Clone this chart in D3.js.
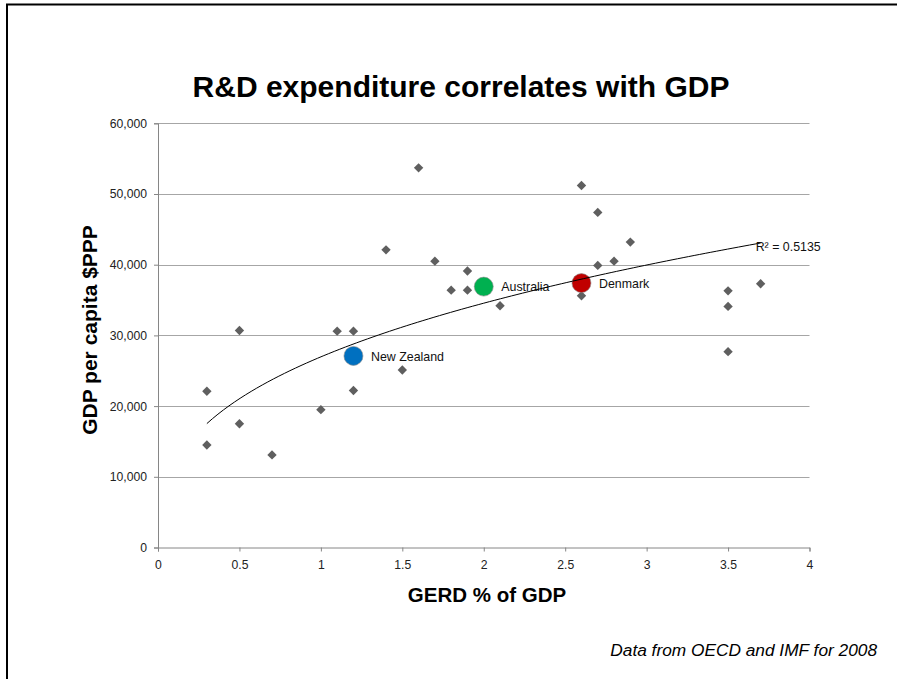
<!DOCTYPE html>
<html>
<head>
<meta charset="utf-8">
<script src="https://cdn.jsdelivr.net/npm/d3@7/dist/d3.min.js"></script>
<style>
  html, body { margin: 0; padding: 0; background: #fff; }
  svg { display: block; font-family: Arial, "Liberation Sans", Helvetica, sans-serif; }
</style>
</head>
<body>
<svg id="chart" width="897" height="679"></svg>
<script>
// GERD (% of GDP) against GDP per capita ($PPP), OECD / IMF 2008
const gerd = [0.3, 0.3, 0.5, 0.5, 0.7, 1.0, 1.1, 1.2, 1.2, 1.4, 1.5, 1.6, 1.7, 1.8, 1.9, 1.9,
              2.1, 2.6, 2.6, 2.7, 2.7, 2.8, 2.9, 3.5, 3.5, 3.5, 3.7];
const gdp  = [22100, 14500, 30700, 17500, 13100, 19500, 30600, 30600, 22200, 42100, 25100, 53700,
              40500, 36400, 39100, 36400, 34200, 51200, 35600, 47400, 39900, 40500, 43200,
              36300, 34100, 27700, 37300];

// Highlighted countries
const hlNames  = ["New Zealand", "Australia", "Denmark"];
const hlGerd   = [1.2, 2.0, 2.6];
const hlGdp    = [27100, 36900, 37400];
const hlColors = ["#0070C0", "#00B050", "#C00000"];

const xTicks = [0, 0.5, 1, 1.5, 2, 2.5, 3, 3.5, 4];
const yTicks = [0, 10000, 20000, 30000, 40000, 50000, 60000];
const r2Label = "R² = 0.5135";

const svg = d3.select("#chart");

// Slide frame (top and left edges)
svg.append("path")
  .attr("d", "M7,679 V4.5 H897")
  .attr("fill", "none").attr("stroke", "#000").attr("stroke-width", 2);

const x = d3.scaleLinear().domain([0, 4]).range([158, 809.5]);
const y = d3.scaleLinear().domain([0, 60000]).range([547.5, 123.3]);

// Horizontal gridlines
svg.append("g").selectAll("line")
  .data(yTicks.filter(d => d > 0))
  .join("line")
  .attr("x1", x(0)).attr("x2", x(4))
  .attr("y1", d => Math.round(y(d)) + 0.5).attr("y2", d => Math.round(y(d)) + 0.5)
  .attr("stroke", "#a6a6a6").attr("stroke-width", 1);

// Axes
const yAxis = svg.append("g")
  .attr("transform", `translate(${x(0)},0)`)
  .call(d3.axisLeft(y).tickValues(yTicks).tickFormat(d3.format(",")).tickSize(4).tickPadding(7));
const xAxis = svg.append("g")
  .attr("transform", `translate(0,${y(0)})`)
  .call(d3.axisBottom(x).tickValues(xTicks).tickFormat(d => String(d)).tickSize(4).tickPadding(9));

[yAxis, xAxis].forEach(g => {
  g.select(".domain").attr("stroke", "#868686");
  g.selectAll(".tick line").attr("stroke", "#868686");
  g.selectAll(".tick text").attr("fill", "#222").style("font-size", "12.2px")
    .style("font-family", "Arial, 'Liberation Sans', sans-serif");
});

// Country markers (diamonds)
const diamond = d3.symbol().type(d3.symbolSquare).size(44);
svg.append("g").selectAll("path")
  .data(gerd.map((g, i) => [g, gdp[i]]))
  .join("path")
  .attr("d", diamond)
  .attr("transform", d => `translate(${x(d[0])},${y(d[1])}) rotate(45)`)
  .attr("fill", "#5f5f5f");

// Highlighted countries
const hl = hlNames.map((n, i) => ({ name: n, gx: hlGerd[i], gy: hlGdp[i], color: hlColors[i] }));
svg.append("g").selectAll("circle")
  .data(hl).join("circle")
  .attr("cx", d => x(d.gx)).attr("cy", d => y(d.gy)).attr("r", 9.5)
  .attr("fill", d => d.color).attr("stroke", "#8a8a8a").attr("stroke-width", 0.6);
svg.append("g").selectAll("text")
  .data(hl).join("text")
  .attr("x", d => x(d.gx) + 17.5).attr("y", d => y(d.gy) + 4.8)
  .attr("fill", "#111").style("font-size", "12.4px")
  .text(d => d.name);

// Power trendline y = a * x^b, fitted on log-log values of all countries
const allX = gerd.concat(hlGerd), allY = gdp.concat(hlGdp);
const lx = allX.map(Math.log), ly = allY.map(Math.log);
const mx = d3.mean(lx), my = d3.mean(ly);
const b = d3.sum(lx, (v, i) => (v - mx) * (ly[i] - my)) / d3.sum(lx, v => (v - mx) ** 2);
const a = Math.exp(my - b * mx);
const [xMin, xMax] = d3.extent(allX);
const trendX = d3.range(0, 101).map(k => xMin + (xMax - xMin) * k / 100);
svg.append("path")
  .datum(trendX)
  .attr("d", d3.line().x(v => x(v)).y(v => y(a * Math.pow(v, b))))
  .attr("fill", "none").attr("stroke", "#000").attr("stroke-width", 1);
svg.append("text")
  .attr("x", x(xMax) - 5).attr("y", y(a * Math.pow(xMax, b)) + 8)
  .attr("fill", "#111").style("font-size", "12.4px")
  .text(r2Label);

// Titles
svg.append("text")
  .attr("x", 461).attr("y", 97).attr("text-anchor", "middle")
  .style("font-size", "30px").style("font-weight", "bold")
  .text("R&D expenditure correlates with GDP");
svg.append("text")
  .attr("x", 487).attr("y", 601.5).attr("text-anchor", "middle")
  .style("font-size", "20.5px").style("font-weight", "bold")
  .text("GERD % of GDP");
svg.append("text")
  .attr("transform", "translate(96.5,330) rotate(-90)").attr("text-anchor", "middle")
  .style("font-size", "21px").style("font-weight", "bold")
  .text("GDP per capita $PPP");
svg.append("text")
  .attr("x", 877).attr("y", 656).attr("text-anchor", "end")
  .style("font-size", "17.3px").style("font-style", "italic")
  .text("Data from OECD and IMF for 2008");
</script>
</body>
</html>
